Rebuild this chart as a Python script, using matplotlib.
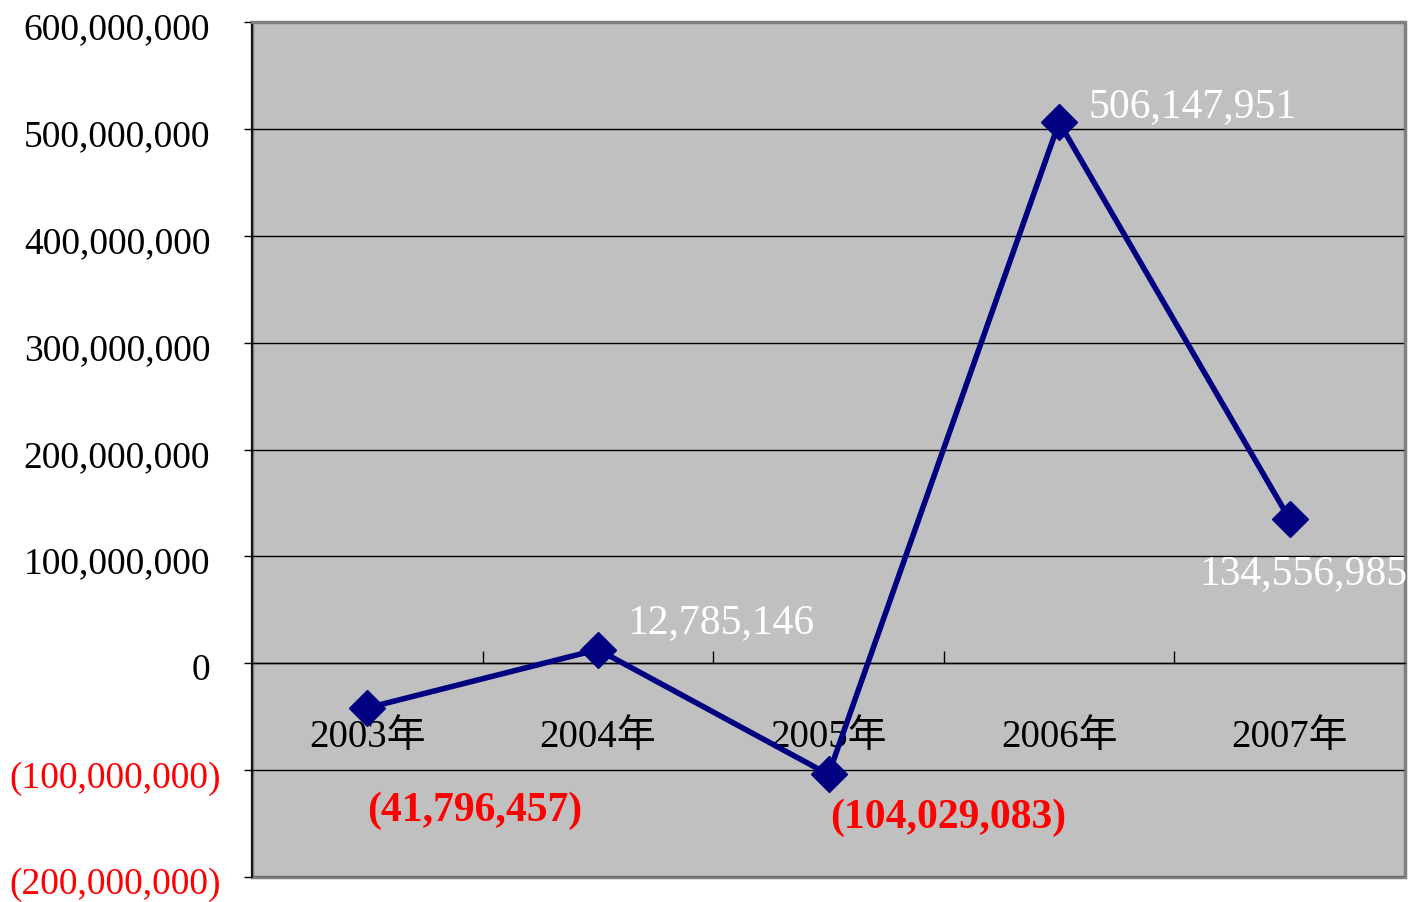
import matplotlib
matplotlib.use("Agg")
import matplotlib.pyplot as plt
from matplotlib.patches import Rectangle
from matplotlib.transforms import ScaledTranslation
from matplotlib.ticker import FixedLocator, FuncFormatter

plt.rcParams['font.family'] = ['Liberation Serif', 'Noto Sans CJK TC', 'DejaVu Sans']

categories = ['2003年', '2004年', '2005年', '2006年', '2007年']
values = [-41796457, 12785146, -104029083, 506147951, 134556985]
y_ticks = [-200000000, -100000000, 0, 100000000, 200000000, 300000000,
           400000000, 500000000, 600000000]

# label offsets (points) per point: positions only
label_offsets = [(0, -74), (21, 19), (1, -31), (21, 11), (-65, -39)]

def fmt(v):
    if v < 0:
        return '({:,})'.format(-int(v))
    return '{:,}'.format(int(v))

fig = plt.figure(figsize=(14.13, 9.02), dpi=100)
ax = fig.add_axes([252/1413, 25/902, (1405-252)/1413, (877-22)/902])
ax.set_facecolor('#C0C0C0')

x = list(range(len(categories)))
ax.plot(x, values, color='#000080', lw=4.0, marker='D', markersize=18,
        markerfacecolor='#000080', markeredgecolor='#000080', zorder=5,
        clip_on=False)

ax.set_xlim(-0.5, len(categories) - 0.5)
ax.set_ylim(y_ticks[0], y_ticks[-1])

# grid lines
ax.yaxis.set_major_locator(FixedLocator(y_ticks))
ax.grid(axis='y', color='black', lw=1.0, zorder=1)
ax.set_axisbelow(True)

# y tick labels
ax.yaxis.set_major_formatter(FuncFormatter(lambda v, p: fmt(v)))
ax.tick_params(axis='y', direction='out', length=6, width=1, pad=24,
               labelsize=27, colors='black')
fig.canvas.draw()
for lab, v in zip(ax.get_yticklabels(), y_ticks):
    dx = 0.0
    if v < 0:
        lab.set_color('#FF0000')
        dx = 11/100
    lab.set_transform(lab.get_transform() +
                      ScaledTranslation(dx, -4/100, fig.dpi_scale_trans))

# x axis at zero
ax.spines['bottom'].set_position(('data', 0))
ax.spines['bottom'].set_color('black')
ax.spines['bottom'].set_linewidth(1.0)
ax.set_xticks(x)
ax.set_xticklabels(categories)
ax.set_xticks([i + 0.5 for i in x[:-1]], minor=True)
ax.tick_params(axis='x', which='major', length=0, pad=40, labelsize=28)
ax.tick_params(axis='x', which='minor', direction='in', length=9, width=1,
               color='black')

for s in ['top', 'right']:
    ax.spines[s].set_color('#808080')
    ax.spines[s].set_linewidth(2)
ax.spines['left'].set_color('black')
ax.spines['left'].set_linewidth(1.2)
ax.add_patch(Rectangle((0, 0), 1, 1, transform=ax.transAxes, fill=False,
                       ec='#808080', lw=2.5, clip_on=False, zorder=0.5))

# data labels
for xi, v, off in zip(x, values, label_offsets):
    if v < 0:
        ax.annotate(fmt(v), (xi, v), xytext=off, textcoords='offset points',
                    ha='left', va='center', fontsize=30, fontweight='bold',
                    color='#FF0000', annotation_clip=False, zorder=6)
    else:
        ax.annotate(fmt(v), (xi, v), xytext=off, textcoords='offset points',
                    ha='left', va='center', fontsize=30, color='white',
                    annotation_clip=False, zorder=6)

fig.savefig('out.png', dpi=100)
